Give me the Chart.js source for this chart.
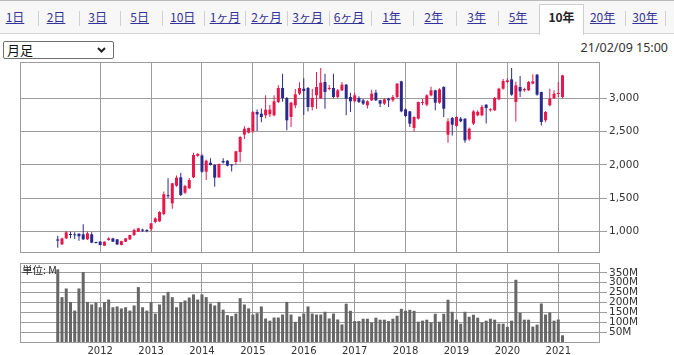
<!DOCTYPE html>
<html lang="ja">
<head>
<meta charset="utf-8">
<script src="https://cdn.jsdelivr.net/npm/chart.js@4.4.1/dist/chart.umd.min.js"></script>
<style>
  html, body { margin: 0; padding: 0; width: 674px; height: 355px; overflow: hidden; background: #fff; font-family: "Noto Sans CJK JP", sans-serif; }
  #tabs { position: absolute; left: 0; top: 0; width: 674px; height: 34px; background: #f7f7f7; border-top: 1px solid #b9b9b9; border-bottom: 1px solid #d4d4d4; box-sizing: border-box; }
  .tab { position: absolute; top: 8px; font-size: 12px; line-height: 16px; color: #33339a; text-decoration: underline; transform: translateX(-50%); white-space: nowrap; }
  .tab.on { color: #222; font-weight: bold; text-decoration: none; }
  .sep { position: absolute; top: 10px; width: 1px; height: 15px; background: #d0d0d0; }
  #cur { position: absolute; left: 539px; top: 3px; width: 45px; height: 31px; background: #fff; border: 1px solid #cfcfcf; border-bottom: none; box-sizing: border-box; }
  #sel { position: absolute; left: 3px; top: 41px; width: 111px; height: 18px; border: 1px solid #6f6f6f; border-radius: 2px; box-sizing: border-box; background: #fff; font-size: 13px; line-height: 16px; padding-left: 3px; color: #111; }
  #sel svg { position: absolute; right: 7px; top: 5px; }
  #date { position: absolute; right: 6px; top: 39px; font-family: "Noto Sans", sans-serif; font-size: 12.5px; color: #333; }
  #unit { position: absolute; left: 22px; top: 263px; font-size: 10.5px; line-height: 13px; color: #222; }
  canvas { position: absolute; left: 0; }
  #price { top: 52px; }
  #volume { top: 253px; }
</style>
</head>
<body>
<div id="tabs"><div id="cur"></div></div>
<div id="sel">月足<svg width="9" height="6" viewBox="0 0 9 6"><polyline points="1,1 4.5,4.5 8,1" fill="none" stroke="#222" stroke-width="2"/></svg></div>
<div id="date">21/02/09 15:00</div>
<canvas id="price" width="674" height="210"></canvas>
<canvas id="volume" width="674" height="112"></canvas>
<div id="unit">単位: M</div>
<script>
// 月足 2011/03 - 2021/02
var opens = [879, 804, 894, 960, 950, 965, 955, 880, 955, 832,
  845, 784, 869, 894, 879, 794, 844, 879, 945, 995,
  1020, 1015, 1035, 1140, 1150, 1260, 1540, 1420, 1686, 1812,
  1581, 1646, 1812, 2133, 2140, 1897, 2032, 1997, 1812, 2057,
  2062, 1995, 2042, 2192, 2453, 2483, 2508, 2794, 2769, 2744,
  2760, 2744, 2944, 3155, 3005, 2719, 2894, 3070, 3145, 3155,
  2869, 3045, 3000, 3245, 3140, 3155, 3020, 3120, 3205, 3020,
  2955, 3005, 2970, 2894, 2970, 3085, 2970, 2920, 2995, 2970,
  3020, 3255, 2834, 2804, 2554, 2694, 2930, 2904, 3045, 3120,
  2934, 3170, 2453, 2704, 2584, 2694, 2694, 2383, 2620, 2745,
  2745, 2904, 2820, 2820, 2985, 3145, 3245, 3285, 2945, 3170,
  3120, 3120, 3220, 3355, 3095, 2670, 2895, 3005, 3065, 3020];
var highs = [934, 904, 1005, 995, 985, 968, 1105, 995, 985, 842,
  850, 850, 909, 904, 885, 858, 900, 950, 1040, 1055,
  1040, 1030, 1125, 1210, 1300, 1600, 1797, 1730, 1840, 1880,
  1700, 1800, 2180, 2175, 2160, 2080, 2100, 2010, 2020, 2100,
  2070, 2010, 2210, 2430, 2580, 2560, 2810, 2830, 2845, 3045,
  2900, 3045, 3195, 3370, 3020, 2950, 3140, 3240, 3300, 3170,
  3145, 3395, 3455, 3370, 3200, 3370, 3140, 3245, 3215, 3085,
  3085, 3030, 2990, 2970, 3130, 3130, 2980, 3000, 3010, 3050,
  3230, 3265, 2850, 2810, 2730, 2950, 2990, 3060, 3175, 3130,
  3150, 3180, 2700, 2720, 2730, 2720, 2700, 2560, 2820, 2820,
  2900, 2910, 2850, 3020, 3160, 3290, 3300, 3455, 3250, 3335,
  3160, 3260, 3360, 3365, 3100, 2810, 3145, 3120, 3245, 3355];
var lows = [754, 794, 885, 895, 885, 860, 870, 870, 820, 815,
  790, 780, 860, 840, 794, 790, 840, 870, 930, 990,
  990, 985, 1000, 1120, 1140, 1240, 1500, 1340, 1670, 1530,
  1560, 1640, 1800, 2120, 1880, 1772, 1990, 1672, 1800, 2020,
  1980, 1900, 2000, 2040, 2390, 2470, 2480, 2510, 2640, 2700,
  2720, 2730, 2930, 2950, 2518, 2568, 2850, 3050, 2750, 2800,
  2819, 2844, 2990, 2844, 3120, 3000, 3000, 3110, 2744, 2794,
  2940, 2930, 2900, 2845, 2960, 2960, 2870, 2900, 2870, 2950,
  3000, 2790, 2720, 2570, 2500, 2680, 2900, 2880, 3030, 2820,
  2920, 2720, 2330, 2440, 2570, 2640, 2330, 2360, 2600, 2730,
  2730, 2620, 2800, 2810, 2970, 3130, 3230, 3040, 2650, 3020,
  3100, 3110, 3210, 3040, 2590, 2640, 2880, 2990, 3020, 3000];
var closes = [859, 894, 985, 945, 940, 925, 880, 970, 830, 825,
  794, 844, 894, 844, 804, 854, 894, 945, 1020, 1045,
  1010, 1005, 1120, 1195, 1290, 1558, 1528, 1722, 1807, 1546,
  1681, 1772, 2148, 2165, 1897, 2062, 1997, 1807, 2012, 2037,
  1987, 1990, 2203, 2418, 2543, 2553, 2794, 2759, 2719, 2829,
  2830, 2954, 3155, 3005, 2669, 2934, 3060, 3155, 3110, 2869,
  3005, 3170, 3235, 3095, 3155, 3020, 3120, 3205, 2995, 2955,
  3045, 2945, 2920, 2955, 3070, 2970, 2920, 2985, 2970, 3020,
  3220, 2804, 2734, 2619, 2719, 2945, 2945, 3045, 3120, 2934,
  3135, 2844, 2654, 2604, 2719, 2654, 2368, 2543, 2804, 2795,
  2870, 2855, 2835, 3005, 3145, 3260, 3270, 3055, 3195, 3105,
  3140, 3245, 3255, 3055, 2644, 2795, 2995, 3070, 3075, 3345];
// 出来高 (M)
var volumes = [368, 227, 271, 203, 159, 271, 354, 203, 190, 200,
  176, 202, 215, 176, 180, 170, 176, 159, 185, 278,
  176, 159, 202, 144, 190, 236, 254, 227, 176, 202,
  210, 225, 241, 215, 241, 227, 195, 185, 203, 164,
  136, 131, 144, 222, 190, 170, 139, 146, 180, 119,
  108, 124, 124, 139, 203, 139, 102, 129, 144, 180,
  144, 139, 139, 153, 119, 144, 114, 89, 194, 158,
  106, 106, 118, 118, 99, 123, 113, 113, 106, 118,
  133, 168, 158, 163, 158, 103, 108, 113, 99, 143,
  103, 143, 214, 153, 113, 93, 153, 128, 138, 123,
  99, 108, 118, 113, 93, 93, 77, 108, 315, 148,
  113, 113, 78, 88, 195, 139, 149, 108, 114, 34];

var yearLabels = ['2012', '2013', '2014', '2015', '2016', '2017', '2018', '2019', '2020', '2021'];
var priceTicks = [1000, 1500, 2000, 2500, 3000];
var volumeTicks = [50, 100, 150, 200, 250, 300, 350];

var tabLabels = ['1日', '2日', '3日', '5日', '10日', '1ヶ月', '2ヶ月', '3ヶ月', '6ヶ月', '1年', '2年', '3年', '5年', '10年', '20年', '30年'];
var tabCenters = [15, 56, 97.6, 139.7, 182.7, 225, 266.5, 307.7, 349, 391.5, 433.7, 476.6, 518, 561.5, 602.6, 645];
var tabSeps = [37.8, 78.7, 120, 162, 203.7, 245, 286.7, 328.8, 370.5, 412.6, 455.6, 497.7, 625, 665];

var months = [];
for (var k = 0; k < opens.length; k++) {
  var m = 2 + k;
  months.push((2011 + Math.floor(m / 12)) + '/' + String(m % 12 + 1).padStart(2, '0'));
}
var yearTicks = yearLabels.map(function (y) { return months.indexOf(y + '/01'); });

function renderizarAbas() {
  var barra = document.getElementById('tabs');
  tabLabels.forEach(function (t, i) {
    var d = document.createElement('div');
    d.className = t === '10年' ? 'tab on' : 'tab';
    d.style.left = tabCenters[i] + 'px';
    d.textContent = t;
    barra.appendChild(d);
  });
  tabSeps.forEach(function (x) {
    var s = document.createElement('div');
    s.className = 'sep';
    s.style.left = x + 'px';
    barra.appendChild(s);
  });
}
renderizarAbas();

var UP = '#e8184a', DOWN = '#2b2a8c', GRID = '#9c9c9c';
var candleColors = opens.map(function (o, i) { return closes[i] >= o ? UP : DOWN; });
var tickFont = { family: '"DejaVu Sans", Verdana, sans-serif', size: 10.5 };

var moldura = {
  id: 'moldura',
  beforeDatasetsDraw: function (chart) {
    var ctx = chart.ctx, a = chart.chartArea;
    ctx.save();
    ctx.strokeStyle = GRID;
    ctx.lineWidth = 1;
    ctx.strokeRect(Math.round(a.left) + 0.5, Math.round(a.top) + 0.5, Math.round(a.right - a.left), Math.round(a.bottom - a.top));
    ctx.restore();
  }
};

function eixoX(showLabels) {
  return {
    type: 'linear',
    offset: false,
    min: -8.9,
    max: 127.6,
    afterBuildTicks: function (s) { s.ticks = yearTicks.map(function (v) { return { value: v }; }); },
    grid: { color: GRID, drawTicks: false, offset: false },
    border: { display: false },
    ticks: {
      display: showLabels,
      autoSkip: false,
      maxRotation: 0,
      padding: 3,
      color: '#333',
      font: { family: '"DejaVu Sans", Verdana, sans-serif', size: 10 },
      callback: function (v) { return yearLabels[yearTicks.indexOf(v)]; }
    },
    afterFit: function (s) { s.height = showLabels ? 20 : 0; }
  };
}

var precoChart = new Chart(document.getElementById('price'), {
  type: 'bar',
  data: {
    datasets: [{
      label: 'wick',
      data: months.map(function (m, i) { return { x: i, y: [lows[i], highs[i]] }; }),
      backgroundColor: candleColors,
      grouped: false,
      maxBarThickness: 1
    }, {
      label: 'body',
      data: months.map(function (m, i) { return { x: i, y: [opens[i], closes[i]] }; }),
      backgroundColor: candleColors,
      grouped: false,
      maxBarThickness: 3,
      minBarLength: 1
    }]
  },
  options: {
    responsive: false,
    animation: false,
    devicePixelRatio: 1,
    layout: { padding: { left: 20, top: 10, bottom: 10, right: 0 } },
    plugins: { legend: { display: false }, tooltip: { enabled: false } },
    scales: {
      x: eixoX(false),
      y: {
        position: 'right',
        min: 689,
        max: 3546,
        afterBuildTicks: function (s) { s.ticks = priceTicks.map(function (v) { return { value: v }; }); },
        afterFit: function (s) { s.width = 75; },
        grid: { color: GRID, tickLength: 8 },
        border: { display: false },
        ticks: {
          autoSkip: false,
          padding: 2,
          color: '#333',
          font: tickFont,
          callback: function (v) { return v.toLocaleString('en-US'); }
        }
      }
    }
  },
  plugins: [moldura]
});

var volumeChart = new Chart(document.getElementById('volume'), {
  type: 'bar',
  data: {
    datasets: [{
      label: 'volume',
      data: months.map(function (m, i) { return { x: i, y: volumes[i] }; }),
      backgroundColor: '#666666',
      grouped: false,
      maxBarThickness: 3
    }]
  },
  options: {
    responsive: false,
    animation: false,
    devicePixelRatio: 1,
    layout: { padding: { left: 20, top: 10, bottom: 3, right: 0 } },
    plugins: { legend: { display: false }, tooltip: { enabled: false } },
    scales: {
      x: eixoX(true),
      y: {
        position: 'right',
        min: 0,
        max: 400,
        afterBuildTicks: function (s) { s.ticks = volumeTicks.map(function (v) { return { value: v }; }); },
        afterFit: function (s) { s.width = 75; },
        grid: { color: GRID, tickLength: 8 },
        border: { display: false },
        ticks: {
          autoSkip: false,
          padding: 2,
          color: '#333',
          font: tickFont,
          callback: function (v) { return v + 'M'; }
        }
      }
    }
  },
  plugins: [moldura]
});
</script>
</body>
</html>
